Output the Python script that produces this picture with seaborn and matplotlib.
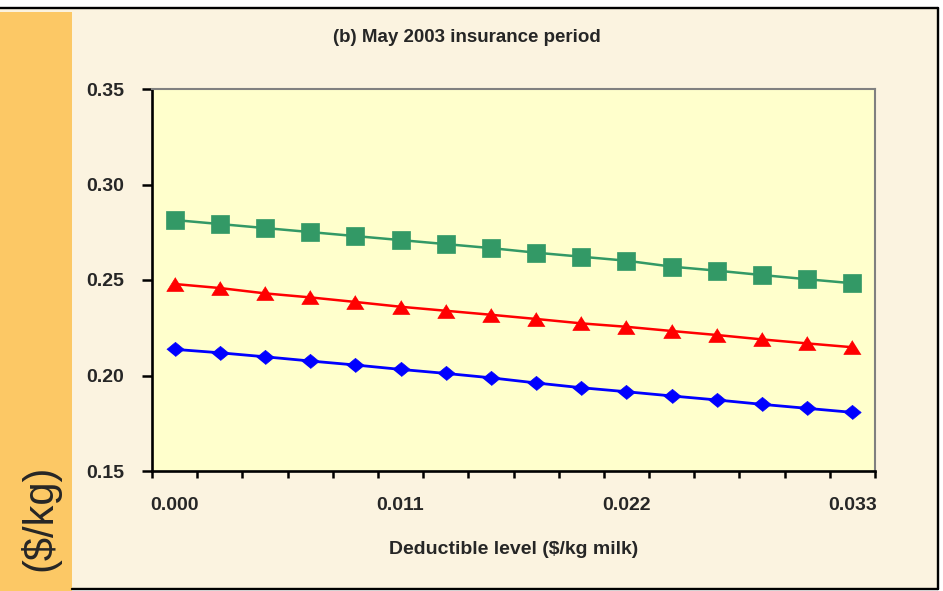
import numpy as np
import pandas as pd
import matplotlib
matplotlib.use("Agg")
import matplotlib.pyplot as plt
import seaborn as sns
from matplotlib.patches import Rectangle
from matplotlib.lines import Line2D

# ---- data ----
deductible = [0.0000, 0.0022, 0.0044, 0.0066, 0.0088, 0.0110, 0.0132, 0.0154,
              0.0176, 0.0198, 0.0220, 0.0242, 0.0264, 0.0286, 0.0308, 0.0330]
series_upper = [0.2814, 0.2793, 0.2772, 0.2751, 0.2730, 0.2709, 0.2688, 0.2667,
                0.2643, 0.2622, 0.2601, 0.2570, 0.2549, 0.2526, 0.2504, 0.2483]
series_middle = [0.2479, 0.2458, 0.2430, 0.2409, 0.2385, 0.2360, 0.2339, 0.2318,
                 0.2296, 0.2273, 0.2255, 0.2233, 0.2212, 0.2189, 0.2168, 0.2148]
series_lower = [0.2137, 0.2119, 0.2098, 0.2076, 0.2055, 0.2032, 0.2011, 0.1988,
                0.1961, 0.1936, 0.1915, 0.1893, 0.1872, 0.1849, 0.1828, 0.1807]
xtick_values = [0.000, 0.011, 0.022, 0.033]
xtick_labels = ["0.000", "0.011", "0.022", "0.033"]
ytick_values = [0.15, 0.20, 0.25, 0.30, 0.35]
ytick_labels = ["0.15", "0.20", "0.25", "0.30", "0.35"]
title_text = "(b) May 2003 insurance period"
xlabel_text = "Deductible level ($/kg milk)"
ylabel_text = "($/kg)"

sns.set_style("white")
plt.rcParams["font.family"] = ["Liberation Sans", "DejaVu Sans"]

W, H = 943, 591
fig = plt.figure(figsize=(W / 100, H / 100), dpi=100)
fig.patch.set_facecolor("white")

def fx(px):
    return px / W

def fy(py):
    return 1 - py / H

# page background and frame
fig.add_artist(Rectangle((0, fy(589)), fx(938), fy(8) - fy(589), transform=fig.transFigure,
                         facecolor="#FBF3E0", edgecolor="none", zorder=0))
fig.add_artist(Rectangle((0, 0), fx(72), fy(11.5), transform=fig.transFigure,
                         facecolor="#FCC865", edgecolor="none", zorder=1))
for (x0, y0, x1, y1) in [(0, 8, 938, 8), (938, 8, 938, 589), (72, 589, 938, 589)]:
    fig.add_artist(Line2D([fx(x0), fx(x1)], [fy(y0), fy(y1)], transform=fig.transFigure,
                          color="black", lw=1.7, zorder=2))

ax = fig.add_axes([fx(152), fy(471), fx(875) - fx(152), fy(89) - fy(471)])
ax.set_facecolor("#FFFFCC")

df = pd.DataFrame({"x": deductible, "upper": series_upper,
                   "middle": series_middle, "lower": series_lower})

tri = [(0, 0.8), (-1, -0.8), (1, -0.8)]
dia = [(-1, 0), (0, 0.82), (1, 0), (0, -0.82)]

sns.lineplot(data=df, x="x", y="upper", ax=ax, color="#339966", lw=1.8,
             marker="s", markersize=12.8, markeredgecolor="#339966", markeredgewidth=0.5)
sns.lineplot(data=df, x="x", y="middle", ax=ax, color="#FF0000", lw=1.8,
             marker=tri, markersize=12.5, markeredgecolor="#FF0000", markeredgewidth=0.5)
sns.lineplot(data=df, x="x", y="lower", ax=ax, color="#0000FF", lw=2.0,
             marker=dia, markersize=12.5, markeredgecolor="#0000FF", markeredgewidth=0.5)

step = deductible[1] - deductible[0]
ax.set_xlim(deductible[0] - step / 2, deductible[-1] + step / 2)
ax.set_ylim(ytick_values[0], ytick_values[-1])

bounds = [d - step / 2 for d in deductible] + [deductible[-1] + step / 2]
ax.set_xticks(xtick_values)
ax.set_xticklabels(xtick_labels)
ax.set_xticks(bounds, minor=True)
ax.tick_params(axis="x", which="major", length=0, pad=19, labelsize=14)
ax.tick_params(axis="x", which="minor", length=5, width=1.8, direction="out", color="black", bottom=True)
ax.set_yticks(ytick_values)
ax.set_yticklabels(ytick_labels)
ax.tick_params(axis="y", which="major", length=7, width=1.8, direction="out", color="black",
               pad=13, labelsize=14, left=True)
for lab in ax.get_xticklabels() + ax.get_yticklabels():
    lab.set_fontweight("bold")

for s in ["left", "bottom"]:
    ax.spines[s].set_color("black")
    ax.spines[s].set_linewidth(1.9)
for s in ["top", "right"]:
    ax.spines[s].set_color("#808080")
    ax.spines[s].set_linewidth(1.5)

ax.set_xlabel(xlabel_text, fontsize=14, fontweight="bold", labelpad=19)
ax.set_ylabel("")

fig.text(fx(467), fy(38), title_text, ha="center", va="center", fontsize=13.5, fontweight="bold")
fig.text(fx(40), fy(518), ylabel_text, ha="center", va="center", rotation=90, fontsize=30)

fig.savefig("out.png", dpi=100)
